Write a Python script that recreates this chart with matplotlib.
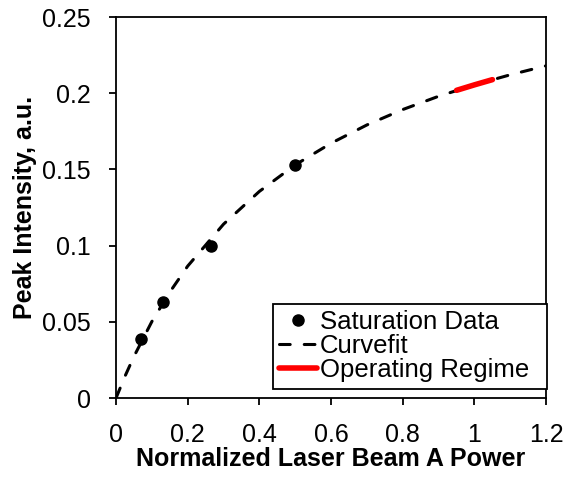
import matplotlib.pyplot as plt

plt.rcParams['font.family'] = ['Liberation Sans', 'DejaVu Sans']

# =============================
# DATOS
# =============================
sat_x = [0.07, 0.13, 0.265, 0.50]
sat_y = [0.039, 0.063, 0.100, 0.153]

fit_x = [0.0, 0.025, 0.05, 0.1, 0.15, 0.2, 0.3, 0.4, 0.5, 0.6, 0.7, 0.8, 0.9, 1.0, 1.1, 1.2]
fit_y = [0.0, 0.0143, 0.0273, 0.0502, 0.0695, 0.0866, 0.1141, 0.1356, 0.1530,
         0.1672, 0.1792, 0.1893, 0.1980, 0.2055, 0.2121, 0.2180]

op_x = [0.95, 1.0, 1.05]
op_y = [0.2019, 0.2055, 0.2089]

# =============================
# GRÁFICO
# =============================
fig = plt.figure(figsize=(5.66, 4.79), dpi=100)
ax = fig.add_axes([0.205, 0.169, 0.76, 0.7955])

ax.plot(sat_x, sat_y, "o", color="black", markersize=8, label="Saturation Data", zorder=3)
ax.plot(fit_x, fit_y, color="black", linestyle=(0, (3.5, 4.6)), linewidth=2.2,
        dash_capstyle="round", label="Curvefit")
ax.plot(op_x, op_y, color="red", linewidth=4, solid_capstyle="round",
        label="Operating Regime", zorder=4)

ax.set_xlim(0, 1.2)
ax.set_ylim(0, 0.25)
ax.set_xticks([0, 0.2, 0.4, 0.6, 0.8, 1.0, 1.2])
ax.set_xticklabels(["0", "0.2", "0.4", "0.6", "0.8", "1", "1.2"])
ax.set_yticks([0, 0.05, 0.1, 0.15, 0.2, 0.25])
ax.set_yticklabels(["0", "0.05", "0.1", "0.15", "0.2", "0.25"])

ax.tick_params(direction="out", length=5, width=1.3, labelsize=18)
ax.tick_params(axis="y", pad=13)
ax.tick_params(axis="x", pad=13)
for s in ax.spines.values():
    s.set_linewidth(1.3)

ax.set_xlabel("Normalized Laser Beam A Power", fontsize=18, fontweight="bold", labelpad=0)
ax.set_ylabel("Peak Intensity, a.u.", fontsize=18, fontweight="bold", labelpad=4)

# leyenda en la esquina inferior derecha, ancho fijo
leg = ax.legend(loc="lower left", bbox_to_anchor=(0.365, 0.024, 0.638, 0.2),
                mode="expand", fontsize=18.5,
                frameon=True, fancybox=False, framealpha=1, edgecolor="black",
                handlelength=1.45, handletextpad=0.12, borderpad=0.25,
                labelspacing=0.0, borderaxespad=0)
leg.get_frame().set_linewidth(1.3)

fig.savefig("out.png", dpi=100)
